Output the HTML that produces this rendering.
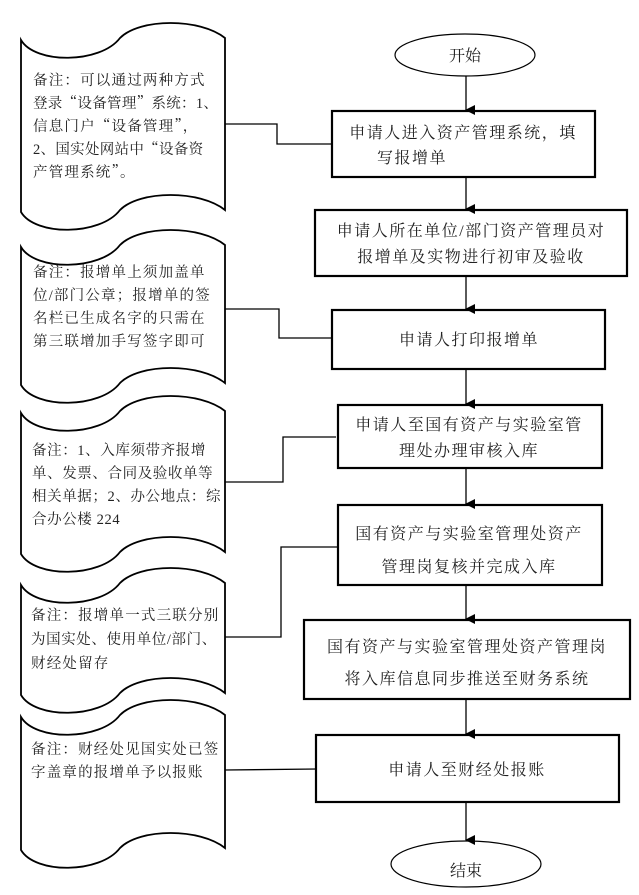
<!DOCTYPE html>
<html><head><meta charset="utf-8"><style>
html,body{margin:0;padding:0;background:#fff;}
svg text{font-family:"Liberation Serif","Noto Serif CJK SC","Noto Sans CJK SC",serif;fill:#222;}
.q{font-family:"Noto Serif CJK SC","Noto Sans CJK SC",serif;}
</style></head><body>
<svg width="639" height="890" viewBox="0 0 639 890" xmlns="http://www.w3.org/2000/svg">
<defs>
<marker id="a" markerWidth="10" markerHeight="10" refX="5" refY="9" orient="auto" markerUnits="userSpaceOnUse">
<path d="M0,0 L10,0 L5,10 Z" fill="#000"/></marker>
</defs>
<g fill="#fff" stroke="#000" stroke-width="1.8">
<path d="M21,40 C35,64 100,64 120,38 C140,18 200,18 225,38 L225,210 C200,190 140,190 120,210 C100,236 35,236 21,212 Z"/>
<path d="M21,247 C35,271 100,271 120,245 C140,225 200,225 225,245 L225,383 C200,363 140,363 120,383 C100,409 35,409 21,385 Z"/>
<path d="M21,413 C35,437 100,437 120,411 C140,391 200,391 225,411 L225,552 C200,532 140,532 120,552 C100,578 35,578 21,554 Z"/>
<path d="M21,585 C35,609 100,609 120,583 C140,563 200,563 225,583 L225,693 C200,673 140,673 120,693 C100,719 35,719 21,695 Z"/>
<path d="M21,717 C35,741 100,741 120,715 C140,695 200,695 225,715 L225,848 C200,828 140,828 120,848 C100,874 35,874 21,850 Z"/>
</g>
<g fill="none" stroke="#000" stroke-width="1.3">
<polyline points="225,124 277,124 277,144 332,144"/>
<polyline points="225,309 279,309 279,338 332,338"/>
<polyline points="225,482 283,482 283,437 336,437"/>
<polyline points="225,637 281,637 281,547 338,547"/>
<polyline points="225,770 317,769"/>
</g>
<g fill="#fff" stroke="#000" stroke-width="1.2">
<ellipse cx="465" cy="55" rx="70" ry="21"/>
<ellipse cx="466" cy="864" rx="75" ry="23"/>
</g>
<g fill="#fff" stroke="#000" stroke-width="2.2">
<rect x="332" y="111" width="263" height="66"/>
<rect x="315" y="210" width="312" height="66"/>
<rect x="332" y="310" width="273" height="59"/>
<rect x="338" y="405" width="264" height="63"/>
<rect x="338" y="505" width="264" height="80"/>
<rect x="304" y="620" width="326" height="79"/>
<rect x="316" y="735" width="303" height="67"/>
</g>
<g stroke="#000" stroke-width="1.3" marker-end="url(#a)">
<line x1="466" y1="76" x2="466" y2="110"/>
<line x1="466" y1="178" x2="466" y2="209"/>
<line x1="466" y1="277" x2="466" y2="309"/>
<line x1="466" y1="370" x2="466" y2="404"/>
<line x1="466" y1="469" x2="466" y2="504"/>
<line x1="466" y1="586" x2="466" y2="619"/>
<line x1="466" y1="700" x2="466" y2="734"/>
<line x1="466" y1="803" x2="466" y2="840"/>
</g>
<g font-size="16" text-anchor="middle">
<text x="465" y="61">开始</text>
<text x="466" y="876">结束</text>
<text x="463" y="138" letter-spacing="1.5">申请人进入资产管理系统，填</text>
<text x="412" y="163" letter-spacing="1.5">写报增单</text>
<text x="471" y="236" letter-spacing="1.5">申请人所在单位/部门资产管理员对</text>
<text x="471" y="262" letter-spacing="1.5">报增单及实物进行初审及验收</text>
<text x="469" y="345" letter-spacing="1.5">申请人打印报增单</text>
<text x="469" y="430" letter-spacing="1.5">申请人至国有资产与实验室管</text>
<text x="469" y="456" letter-spacing="1.5">理处办理审核入库</text>
<text x="469" y="539" letter-spacing="1.5">国有资产与实验室管理处资产</text>
<text x="469" y="572" letter-spacing="1.5">管理岗复核并完成入库</text>
<text x="467" y="652" letter-spacing="1.5">国有资产与实验室管理处资产管理岗</text>
<text x="467" y="684" letter-spacing="1.5">将入库信息同步推送至财务系统</text>
<text x="467" y="775" letter-spacing="1.5">申请人至财经处报账</text>
</g>
<g font-size="14.5" letter-spacing="1.2">
<text x="33" y="85">备注：可以通过两种方式</text>
<text x="33" y="108" letter-spacing="0.3">登录<tspan class="q">“</tspan>设备管理<tspan class="q">”</tspan>系统：1、</text>
<text x="33" y="131">信息门户<tspan class="q">“</tspan>设备管理<tspan class="q">”</tspan>，</text>
<text x="33" y="154" letter-spacing="0.3">2、国实处网站中<tspan class="q">“</tspan>设备资</text>
<text x="33" y="177">产管理系统<tspan class="q">”</tspan>。</text>
<text x="33" y="277">备注：报增单上须加盖单</text>
<text x="33" y="300">位/部门公章；报增单的签</text>
<text x="33" y="323">名栏已生成名字的只需在</text>
<text x="33" y="346">第三联增加手写签字即可</text>
<g letter-spacing="0.6">
<text x="32" y="455">备注：1、入库须带齐报增</text>
<text x="32" y="478">单、发票、合同及验收单等</text>
<text x="32" y="501">相关单据；2、办公地点：综</text>
<text x="32" y="524">合办公楼 224</text>
</g>
<text x="31" y="620">备注：报增单一式三联分别</text>
<text x="31" y="644" letter-spacing="0.6">为国实处、使用单位/部门、</text>
<text x="31" y="668">财经处留存</text>
<text x="31" y="754">备注：财经处见国实处已签</text>
<text x="31" y="777">字盖章的报增单予以报账</text>
</g>
</svg>
</body></html>
